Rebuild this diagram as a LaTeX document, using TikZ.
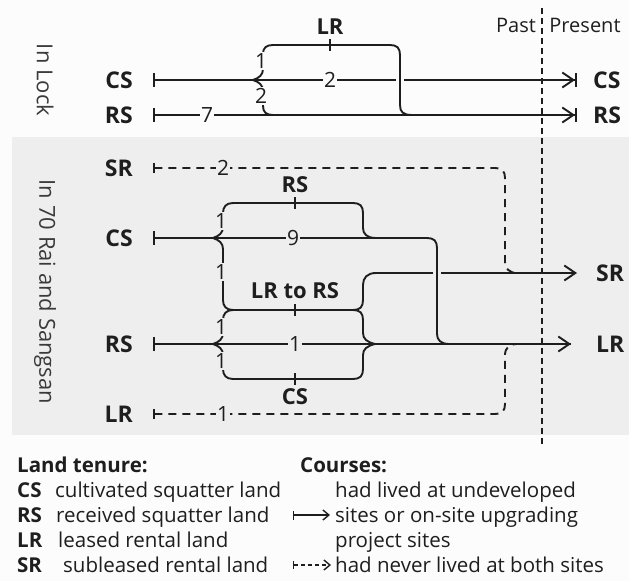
\documentclass[tikz,border=0pt]{standalone}
\usepackage{fontspec}
\setmainfont{Open Sans}
\usetikzlibrary{arrows.meta}
\definecolor{ink}{HTML}{1E1E1E}
\definecolor{band}{HTML}{EEEEEE}
\definecolor{paper}{HTML}{FCFCFC}
\definecolor{greyink}{HTML}{3A3A3A}
\begin{document}
\begin{tikzpicture}[x=1bp,y=-1bp,line join=round,
  flow/.style={draw=ink,line width=1.9bp},
  dflow/.style={flow,dash pattern=on 8bp off 6bp},
  sbar/.style={{Bar[width=14bp]}-},
  dbar/.style={{Bar[width=10bp]}-},
  barb/.style={-{Straight Barb[length=11bp,width=15bp]}},
  num/.style={font=\fontsize{21bp}{24bp}\selectfont,text=ink,inner sep=1.2bp},
  numw/.style={num,fill=paper},
  numg/.style={num,fill=band},
  tenure/.style={font=\fontsize{23bp}{26bp}\selectfont\bfseries,text=ink,inner sep=0bp},
  branch/.style={font=\fontsize{22bp}{26bp}\selectfont\bfseries,text=ink,inner sep=0bp},
  txt/.style={font=\fontsize{20bp}{24bp}\selectfont,text=ink,inner sep=0bp},
  rot/.style={font=\fontsize{22bp}{26bp}\selectfont,text=greyink,rotate=-90,inner sep=0bp},
  leg/.style={font=\fontsize{20.5bp}{24bp}\selectfont,text=ink,inner sep=0bp,anchor=base west},
  legb/.style={font=\fontsize{20.5bp}{24bp}\selectfont\bfseries,text=ink,inner sep=0bp,anchor=base west},
  tick/.style={draw=ink,line width=1.9bp}]
% backgrounds
\fill[paper] (0,0) rectangle (629,581);
\fill[band] (12,137) rectangle (629,435);
\useasboundingbox (0,0) rectangle (629,581);

% past / present
\coordinate (pp1) at (542,8);
\coordinate (pp2) at (542,447);
\draw[ink,line width=1.3bp,dash pattern=on 6bp off 4bp] (pp1) -- (pp2);
\node[txt] (past) at (516,25) {Past};
\node[txt] (present) at (585,25) {Present};

% ---------------- In Lock ----------------
\node[rot] (lock) at (45,80) {In Lock};
\node[tenure,anchor=east] (cs1) at (133,80) {CS};
\node[tenure,anchor=east] (rs1) at (133,115) {RS};
\node[tenure,anchor=west] (cs1r) at (593,80) {CS};
\node[tenure,anchor=west] (rs1r) at (593,115) {RS};
\coordinate (cs1s) at (153,80);
\coordinate (cs1e) at (576,80);
\coordinate (rs1s) at (153,115);
\coordinate (rs1e) at (576,115);
\draw[flow,sbar] (cs1s) -- ([xshift=-1bp]cs1e);
\draw[flow,barb] (560,80) -- ([xshift=-1bp]cs1e);
\draw[tick] ([yshift=-7bp]cs1e) -- ([yshift=7bp]cs1e);
\draw[flow,sbar] (rs1s) -- ([xshift=-1bp]rs1e);
\draw[flow,barb] (560,115) -- ([xshift=-1bp]rs1e);
\draw[tick] ([yshift=-7bp]rs1e) -- ([yshift=7bp]rs1e);
% gap in CS line
\draw[paper,line width=8bp] (400,74) -- (400,86);
% brace and LR branch
\coordinate (t1) at (253,80);
\draw[flow] (t1) .. controls (259,78) and (263,75) .. (263,69) -- (263,54)
  .. controls (263,48) and (266,45) .. (273,45) -- (390,45)
  .. controls (397,45) and (400,48) .. (400,55) -- (400,105)
  .. controls (400,112) and (403,115) .. (412,115);
\draw[flow] (t1) .. controls (259,82) and (263,85) .. (263,91) -- (263,106)
  .. controls (263,112) and (266,115) .. (273,115);
\draw[tick] (330,39) -- (330,51);
\node[branch] (lrt) at (330,27) {LR};
\node[numw] at (261,61) {1};
\node[numw] at (261,96) {2};
\node[numw] at (330,80) {2};
\node[numw] at (207,115) {7};

% ---------------- In 70 Rai and Sangsan ----------------
\node[rot] (rai) at (45,292) {In 70 Rai and Sangsan};
\node[tenure,anchor=east] (sr2) at (133,168) {SR};
\node[tenure,anchor=east] (cs2) at (133,238) {CS};
\node[tenure,anchor=east] (rs2) at (133,344) {RS};
\node[tenure,anchor=east] (lr2) at (133,414) {LR};
\node[tenure,anchor=west] (sr2r) at (596,273) {SR};
\node[tenure,anchor=west] (lr2r) at (596,344) {LR};
\coordinate (sr2s) at (153,168);
\coordinate (cs2s) at (153,238);
\coordinate (rs2s) at (153,344);
\coordinate (lr2s) at (153,414);
\coordinate (sr2e) at (577,273);
\coordinate (lr2e) at (571,344);

% SR dashed
\draw[dflow,dbar] (sr2s) -- (495,168) .. controls (502,168) and (505,171) .. (505,178)
  -- (505,262) .. controls (505,268) and (509,273) .. (517,273);
\node[numg] at (223,168) {2};

% LR to RS -> SR output
\draw[flow,barb] (233,310) -- (353,310) .. controls (360,310) and (363,307) .. (363,300)
  -- (363,285) .. controls (363,278) and (367,273) .. (376,273) -- (sr2e);
\draw[tick] (295,304) -- (295,316);
\node[branch] at (295,291) {LR to RS};

% gap in SR line
\draw[band,line width=8bp] (437,267) -- (437,279);

% CS middle line
\draw[flow,sbar] (cs2s) -- (427,238) .. controls (434,238) and (437,241) .. (437,248)
  -- (437,334) .. controls (437,340) and (441,344) .. (449,344);
\node[numg] at (293,238) {9};
% CS brace
\coordinate (t2) at (213,238);
\draw[flow] (t2) .. controls (219,236) and (223,233) .. (223,227) -- (223,213)
  .. controls (223,207) and (226,203) .. (233,203) -- (353,203)
  .. controls (360,203) and (363,206) .. (363,213) -- (363,228)
  .. controls (363,234) and (367,238) .. (376,238);
\draw[flow] (t2) .. controls (219,240) and (223,243) .. (223,249) -- (223,300)
  .. controls (223,306) and (226,310) .. (233,310);
\draw[tick] (295,197) -- (295,209);
\node[branch] at (295,185) {RS};
\node[numg] at (221,221) {1};
\node[numg] at (221,272) {1};

% RS middle line -> LR output
\draw[flow,sbar] (rs2s) -- (lr2e);
\draw[flow,barb] (550,344) -- (lr2e);
\node[numg] at (295,344) {1};
% RS brace
\coordinate (t3) at (213,344);
\draw[flow] (t3) .. controls (219,342) and (223,339) .. (223,333) -- (223,320)
  .. controls (223,314) and (226,310) .. (233,310);
\draw[flow] (t3) .. controls (219,346) and (223,349) .. (223,355) -- (223,369)
  .. controls (223,375) and (226,379) .. (233,379) -- (353,379);
\node[numg] at (221,327) {1};
\node[numg] at (221,361) {1};
\draw[tick] (295,373) -- (295,385);
\node[branch] at (295,397) {CS};
% right brace
\coordinate (t4) at (375,344);
\draw[flow] (353,310) .. controls (360,310) and (363,313) .. (363,320) -- (363,333)
  .. controls (363,339) and (367,342) .. (t4);
\draw[flow] (353,379) .. controls (360,379) and (363,376) .. (363,369) -- (363,355)
  .. controls (363,349) and (367,346) .. (t4);

% LR dashed
\draw[dflow,dbar] (lr2s) -- (495,414) .. controls (502,414) and (505,411) .. (505,404)
  -- (505,354) .. controls (505,349) and (509,344) .. (517,344);
\node[numg] at (223,414) {1};

% ---------------- legend ----------------
\node[legb] at (17,472) {Land tenure:};
\node[legb] at (17,497) {CS};
\node[legb] at (17,522) {RS};
\node[legb] at (17,547) {LR};
\node[legb] at (17,572) {SR};
\node[leg] at (55,497) {cultivated squatter land};
\node[leg] at (56,522) {received squatter land};
\node[leg] at (58,547) {leased rental land};
\node[leg] at (63,572) {subleased rental land};
\node[legb] at (300,472) {Courses:};
\node[leg] at (335,497) {had lived at undeveloped};
\node[leg] at (335,522) {sites or on-site upgrading};
\node[leg] at (335,547) {project sites};
\node[leg] at (335,572) {had never lived at both sites};
\coordinate (k1s) at (293,515);
\coordinate (k1e) at (330,515);
\coordinate (k2s) at (293,565);
\coordinate (k2e) at (331,565);
\draw[draw=ink,line width=1.4bp,{Bar[width=9bp]}-{Straight Barb[length=6bp,width=10bp]}] (k1s) -- (k1e);
\draw[draw=ink,line width=1.4bp,dash pattern=on 4bp off 3bp,{Bar[width=8bp]}-{Straight Barb[length=6bp,width=10bp]}] (k2s) -- (k2e);
\end{tikzpicture}
\end{document}
